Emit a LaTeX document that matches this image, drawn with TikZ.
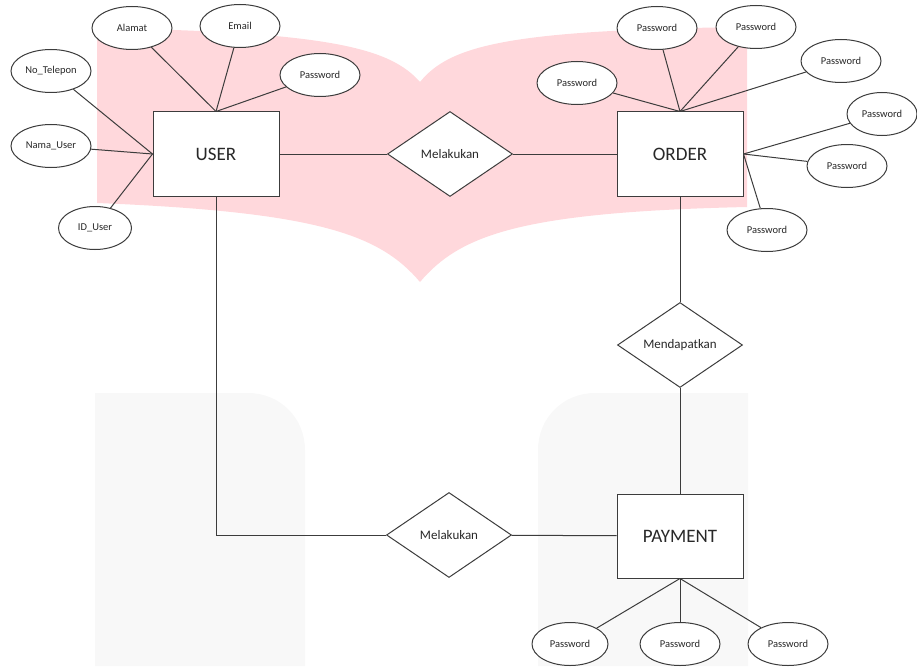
\documentclass[tikz,border=0pt]{standalone}
\usepackage{fontspec}
\setmainfont{Carlito}
\usetikzlibrary{shapes.geometric}
\definecolor{pinkbg}{RGB}{255,216,220}
\definecolor{graybg}{RGB}{248,248,248}
\definecolor{inkline}{RGB}{60,60,60}
\definecolor{inktext}{RGB}{40,40,40}
\tikzset{
  entity/.style={draw=inkline, line width=1pt, fill=white, rectangle, minimum width=126pt, minimum height=84pt, inner sep=0pt, text=inktext, font=\fontsize{19}{21}\selectfont},
  relation/.style={draw=inkline, line width=1pt, fill=white, diamond, minimum width=125pt, minimum height=85pt, inner sep=0pt, text=inktext, font=\fontsize{13}{15}\selectfont},
  attrib/.style={draw=inkline, line width=1pt, fill=white, ellipse, minimum width=80pt, minimum height=43pt, inner sep=0pt, text=inktext, font=\fontsize{10.5}{12}\selectfont},
  conn/.style={draw=inkline, line width=1pt}
}
\begin{document}
\begin{tikzpicture}[x=1pt,y=-1pt]
\useasboundingbox (0,0) rectangle (917,666);
% background watermark
\fill[graybg] (95,666) -- (95,393) -- (248,393) .. controls (280,393) and (305,418) .. (305,450) -- (305,666) -- cycle;
\fill[graybg] (748,666) -- (748,393) -- (595,393) .. controls (563,393) and (538,418) .. (538,450) -- (538,666) -- cycle;
\fill[pinkbg] (97,28) .. controls (330,32) and (390,48) .. (420,82)
  .. controls (450,45) and (510,30) .. (747,27) -- (747,207)
  .. controls (520,212) and (460,235) .. (420,282)
  .. controls (380,235) and (320,212) .. (97,203) -- cycle;
% entities
\node[entity] (user) at (216,154) {USER};
\node[entity] (order) at (680,154) {ORDER};
\node[entity] (payment) at (680,536) {PAYMENT};
% relations
\node[relation] (rel1) at (450,154) {Melakukan};
\node[relation] (rel2) at (449,535) {Melakukan};
\node[relation] (rel3) at (680,345) {Mendapatkan};
% user attributes
\node[attrib] (alamat) at (132,28) {Alamat};
\node[attrib] (email) at (240,26) {Email};
\node[attrib] (upass) at (320,75) {Password};
\node[attrib] (notel) at (51,71) {No\_Telepon};
\node[attrib] (nama) at (51,146) {Nama\_User};
\node[attrib, minimum width=73pt] (iduser) at (95,228) {ID\_User};
% order attributes
\node[attrib] (o1) at (577,83) {Password};
\node[attrib] (o2) at (657,28) {Password};
\node[attrib] (o3) at (756,27) {Password};
\node[attrib] (o4) at (841,61) {Password};
\node[attrib, minimum width=70pt] (o5) at (882,114) {Password};
\node[attrib] (o6) at (847,166) {Password};
\node[attrib] (o7) at (767,230) {Password};
% payment attributes
\node[attrib, minimum width=76pt] (p1) at (570,644) {Password};
\node[attrib] (p2) at (680,644) {Password};
\node[attrib] (p3) at (788,644) {Password};
% connectors
\draw[conn] (user) -- (rel1);
\draw[conn] (rel1) -- (order);
\draw[conn] (user.south) |- (rel2.west);
\draw[conn] (rel2) -- (payment);
\draw[conn] (order) -- (rel3);
\draw[conn] (rel3) -- (payment);
\foreach \a in {alamat,email,upass} \draw[conn] (\a) -- (user.north);
\foreach \a in {notel,nama,iduser} \draw[conn] (\a) -- (user.west);
\foreach \a in {o1,o2,o3,o4} \draw[conn] (\a) -- (order.north);
\foreach \a in {o5,o6,o7} \draw[conn] (\a) -- (order.east);
\foreach \a in {p1,p2,p3} \draw[conn] (\a) -- (payment.south);
\end{tikzpicture}
\end{document}
